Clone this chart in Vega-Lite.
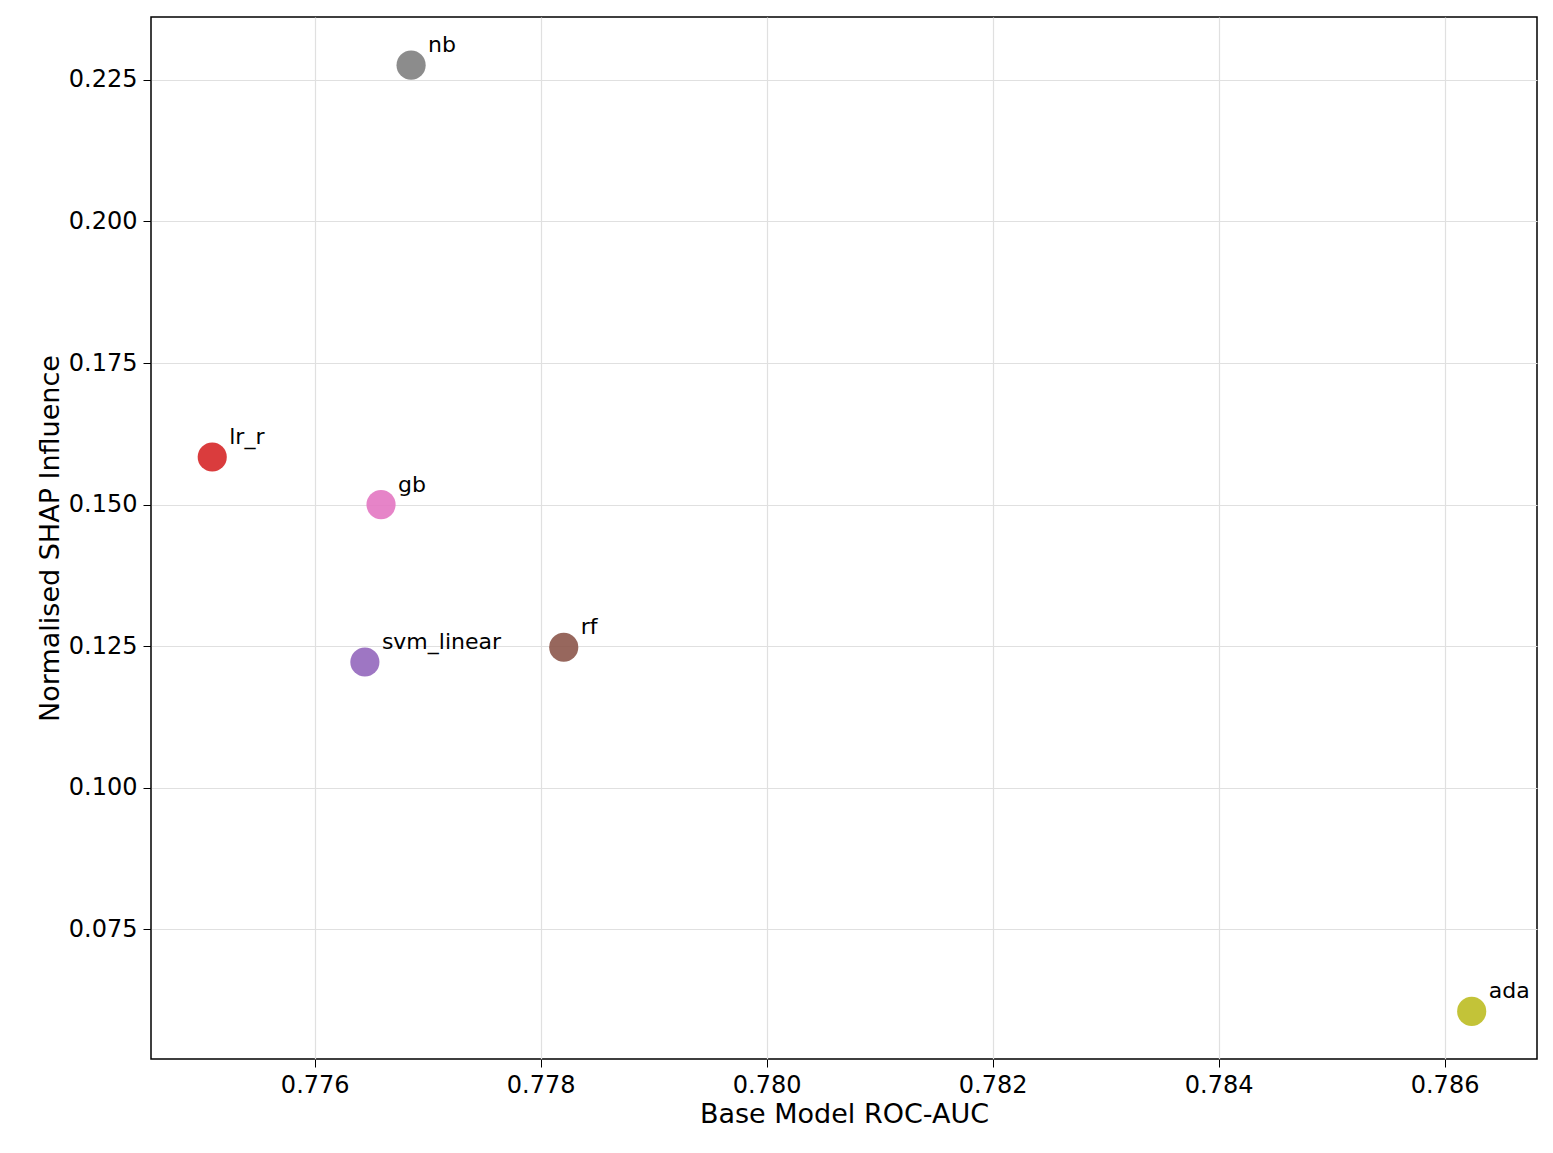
{
  "$schema": "https://vega.github.io/schema/vega-lite/v6.json",
  "width": 1553,
  "height": 1153,
  "autosize": {"type": "fit", "contains": "padding"},
  "padding": {"left": 36, "top": 17, "right": 16, "bottom": 26},
  "background": "white",
  "config": {
    "font": "DejaVu Sans",
    "view": {"stroke": "black", "strokeWidth": 1.5},
    "axis": {
      "labelFontSize": 24, "titleFontSize": 27, "titleFontWeight": "normal",
      "labelColor": "black", "titleColor": "black",
      "gridColor": "#e0e0e0", "gridWidth": 1.2,
      "tickColor": "black", "tickSize": 8, "domain": false, "labelPadding": 6
    }
  },
  "data": {"values": [
    {"model": "nb", "auc": 0.776853, "shap": 0.2276, "color": "#7f7f7f"},
    {"model": "lr_r", "auc": 0.775093, "shap": 0.1584, "color": "#d62728"},
    {"model": "gb", "auc": 0.776587, "shap": 0.1500, "color": "#e377c2"},
    {"model": "svm_linear", "auc": 0.776444, "shap": 0.1222, "color": "#9467bd"},
    {"model": "rf", "auc": 0.778204, "shap": 0.1248, "color": "#8c564b"},
    {"model": "ada", "auc": 0.78624, "shap": 0.0605, "color": "#bcbd22"}
  ]},
  "encoding": {
    "x": {"field": "auc", "type": "quantitative", "title": "Base Model ROC-AUC",
      "scale": {"domain": [0.774551, 0.786818], "nice": false, "zero": false},
      "axis": {"values": [0.776, 0.778, 0.78, 0.782, 0.784, 0.786], "format": ".3f"}},
    "y": {"field": "shap", "type": "quantitative", "title": "Normalised SHAP Influence",
      "scale": {"domain": [0.0521, 0.2361], "nice": false, "zero": false},
      "axis": {"values": [0.075, 0.1, 0.125, 0.15, 0.175, 0.2, 0.225], "format": ".3f"}}
  },
  "layer": [
    {"mark": {"type": "circle", "size": 850, "opacity": 0.9},
     "encoding": {"color": {"field": "color", "type": "nominal", "scale": null}}},
    {"mark": {"type": "text", "align": "left", "baseline": "bottom", "dx": 17, "dy": -8, "fontSize": 22},
     "encoding": {"text": {"field": "model"}}}
  ]
}
